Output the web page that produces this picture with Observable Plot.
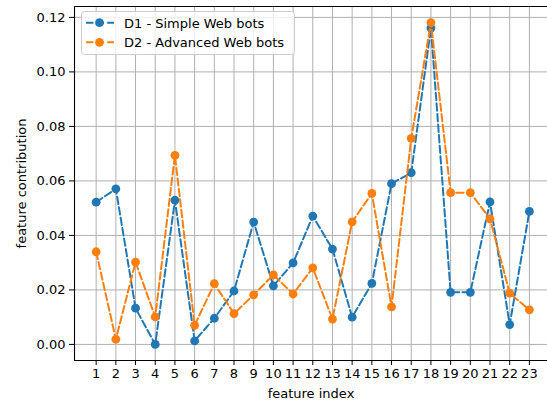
<!DOCTYPE html>
<html><head><meta charset="utf-8">
<script src="https://cdn.jsdelivr.net/npm/d3@7"></script>
<script src="https://cdn.jsdelivr.net/npm/@observablehq/plot@0.6"></script>
<style>
body{margin:0;background:#fff;}
#wrap{position:relative;width:547px;height:402px;overflow:hidden;font-family:"DejaVu Sans",sans-serif;}
#legend{position:absolute;left:81px;top:11px;z-index:2;}
</style></head><body><div id="wrap"></div>
<script>
const features = d3.range(1, 24);
const d1 = [0.0522,0.0571,0.0133,0.0000,0.0529,0.0013,0.0096,0.0196,0.0449,0.0215,0.0299,0.0471,0.0350,0.0100,0.0224,0.0590,0.0630,0.1161,0.0191,0.0191,0.0523,0.0073,0.0488];
const d2 = [0.0340,0.0019,0.0302,0.0101,0.0694,0.0070,0.0223,0.0113,0.0182,0.0255,0.0185,0.0281,0.0093,0.0450,0.0554,0.0138,0.0756,0.1181,0.0557,0.0557,0.0461,0.0188,0.0127];
const seriesNames = ["D1 - Simple Web bots", "D2 - Advanced Web bots"];
const colors = ["#1f77b4", "#ff7f0e"];
const yTicks = [0, 0.02, 0.04, 0.06, 0.08, 0.10, 0.12];
const xDomain = [-0.1, 23.92];
const yDomain = [-0.0059, 0.124];

const series = [d1, d2].map((vals, k) => features.map((f, i) => ({f, v: vals[i], s: seriesNames[k]})));

const dash = "7.4,3.2";
const marks = [
  Plot.gridX(features, {stroke: "#b0b0b0", strokeOpacity: 1, strokeWidth: 1}),
  Plot.gridY(yTicks, {stroke: "#b0b0b0", strokeOpacity: 1, strokeWidth: 1}),
];
series.forEach((d, k) => {
  marks.push(Plot.line(d, {x: "f", y: "v", stroke: colors[k], strokeWidth: 2, strokeDasharray: dash}));
  marks.push(Plot.dot(d, {x: "f", y: "v", fill: colors[k], r: 4.4, stroke: "none"}));
});
marks.push(
  Plot.ruleX([xDomain[0]], {stroke: "#000", strokeWidth: 1.1}),
  Plot.ruleY([yDomain[0]], {stroke: "#000", strokeWidth: 1.1}),
  Plot.ruleY([yDomain[1]], {stroke: "#000", strokeWidth: 1.1}),
  Plot.axisX(features, {tickSize: 5, tickPadding: 3, label: "feature index", labelAnchor: "center", labelOffset: 37, labelArrow: false}),
  Plot.axisY(yTicks, {tickSize: 5, tickPadding: 4, tickFormat: d3.format(".2f"), label: "feature contribution", labelAnchor: "center", labelOffset: 58, labelArrow: false})
);

const chart = Plot.plot({
  width: 547, height: 402,
  marginLeft: 74, marginRight: 0, marginTop: 6, marginBottom: 42,
  x: {type: "linear", domain: xDomain},
  y: {type: "linear", domain: yDomain},
  style: {fontFamily: "DejaVu Sans", fontSize: "13px", color: "#000", background: "#fff", overflow: "hidden"},
  marks
});
const wrap = document.getElementById("wrap");
wrap.appendChild(chart);

// legend
const lg = d3.select(wrap).append("svg").attr("id", "legend").attr("width", 215).attr("height", 45);
lg.append("rect").attr("x", 0.5).attr("y", 0.5).attr("width", 213).attr("height", 43).attr("rx", 3)
  .attr("fill", "rgba(255,255,255,0.8)").attr("stroke", "#cccccc");
seriesNames.forEach((name, k) => {
  const cy = 11.7 + k * 19.6;
  const g = lg.append("g");
  g.append("line").attr("x1", 5).attr("x2", 33).attr("y1", cy).attr("y2", cy)
    .attr("stroke", colors[k]).attr("stroke-width", 2).attr("stroke-dasharray", dash);
  g.append("circle").attr("cx", 18.5).attr("cy", cy).attr("r", 4.4).attr("fill", colors[k]);
  g.append("text").attr("x", 43).attr("y", cy + 5).attr("font-size", 13).attr("font-family", "DejaVu Sans").attr("fill", "#000").text(name);
});
</script></body></html>
